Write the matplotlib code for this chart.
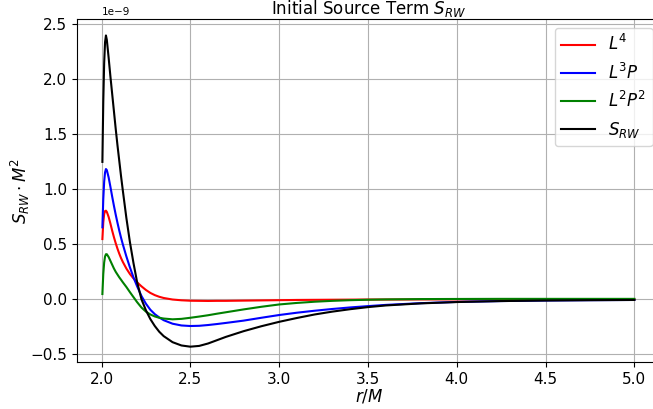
import numpy as np
import matplotlib
matplotlib.use('Agg')
import matplotlib.pyplot as plt

# r/M Stuetzstellen
r = [2.005, 2.01, 2.015, 2.02, 2.025, 2.03, 2.04, 2.05, 2.06, 2.07, 2.08, 2.09, 2.10,
     2.11, 2.12, 2.14, 2.16, 2.18, 2.20, 2.225, 2.25, 2.275, 2.30, 2.325, 2.35, 2.40, 2.45,
     2.50, 2.55, 2.60, 2.65, 2.70, 2.80, 2.90, 3.00, 3.10, 3.20, 3.30, 3.40, 3.50,
     3.60, 3.80, 4.00, 4.25, 4.50, 4.75, 5.00]

# Werte in Einheiten von 1e-9
L4 = [0.548, 0.70, 0.775, 0.803, 0.806, 0.795, 0.75, 0.69, 0.625, 0.565, 0.51, 0.46, 0.415,
      0.375, 0.34, 0.28, 0.23, 0.19, 0.155, 0.118, 0.085, 0.058, 0.038, 0.023, 0.012, -0.002, -0.009,
      -0.013, -0.014, -0.015, -0.014, -0.014, -0.012, -0.01, -0.008, -0.006, -0.005, -0.004, -0.003, -0.002,
      -0.002, -0.001, -0.001, 0.0, 0.0, 0.0, 0.0]
L3P = [0.655, 0.91, 1.07, 1.155, 1.185, 1.175, 1.11, 1.025, 0.935, 0.85, 0.77, 0.695, 0.625,
       0.56, 0.50, 0.39, 0.29, 0.20, 0.12, 0.03, -0.04, -0.095, -0.135, -0.165, -0.19, -0.222, -0.238,
       -0.243, -0.241, -0.234, -0.225, -0.215, -0.194, -0.168, -0.143, -0.122, -0.104, -0.088, -0.074, -0.062,
       -0.051, -0.035, -0.024, -0.016, -0.011, -0.008, -0.006]
L2P2 = [0.048, 0.23, 0.335, 0.39, 0.41, 0.41, 0.385, 0.35, 0.315, 0.28, 0.25, 0.225, 0.20,
        0.178, 0.155, 0.112, 0.065, 0.02, -0.025, -0.075, -0.112, -0.138, -0.156, -0.168, -0.175, -0.182, -0.178,
        -0.168, -0.157, -0.145, -0.131, -0.118, -0.092, -0.068, -0.047, -0.033, -0.022, -0.014, -0.008, -0.004,
        -0.001, 0.002, 0.003, 0.004, 0.004, 0.004, 0.004]
SRW = [1.25, 1.80, 2.15, 2.34, 2.40, 2.36, 2.20, 2.03, 1.87, 1.71, 1.55, 1.40, 1.26,
       1.12, 0.99, 0.74, 0.52, 0.33, 0.16, 0.0, -0.10, -0.18, -0.243, -0.295, -0.335, -0.39, -0.42,
       -0.431, -0.424, -0.402, -0.372, -0.342, -0.29, -0.245, -0.205, -0.17, -0.138, -0.112, -0.09, -0.071,
       -0.056, -0.037, -0.025, -0.016, -0.011, -0.008, -0.006]

fig = plt.figure(figsize=(6.53, 4.09), dpi=100)
ax = fig.add_axes([0.1175, 0.1142, 0.8946, 0.8386])

scale = 1e-9
ax.plot(r, np.array(L4) * scale, color='red', label='$L^4$')
ax.plot(r, np.array(L3P) * scale, color='blue', label='$L^3P$')
ax.plot(r, np.array(L2P2) * scale, color='green', label='$L^2P^2$')
ax.plot(r, np.array(SRW) * scale, color='black', label='$S_{RW}$')

ax.set_xlim(1.8605, 5.1495)
ax.set_ylim(-0.573e-9, 2.547e-9)
ax.set_title('Initial Source Term $S_{RW}$', fontsize=12, pad=2.5)
ax.set_xlabel('$r/M$', fontsize=12, labelpad=0)
ax.set_ylabel(r'$S_{RW}\cdot M^2$', fontsize=12, labelpad=-1)
ax.tick_params(labelsize=11)
off = ax.yaxis.get_offset_text()
off.set_fontsize(7.5)
off.set_horizontalalignment('left')
off.set_x(0.043)
ax.grid(True)
ax.legend(loc='upper right', fontsize=12)

fig.savefig('out.png', dpi=100)
